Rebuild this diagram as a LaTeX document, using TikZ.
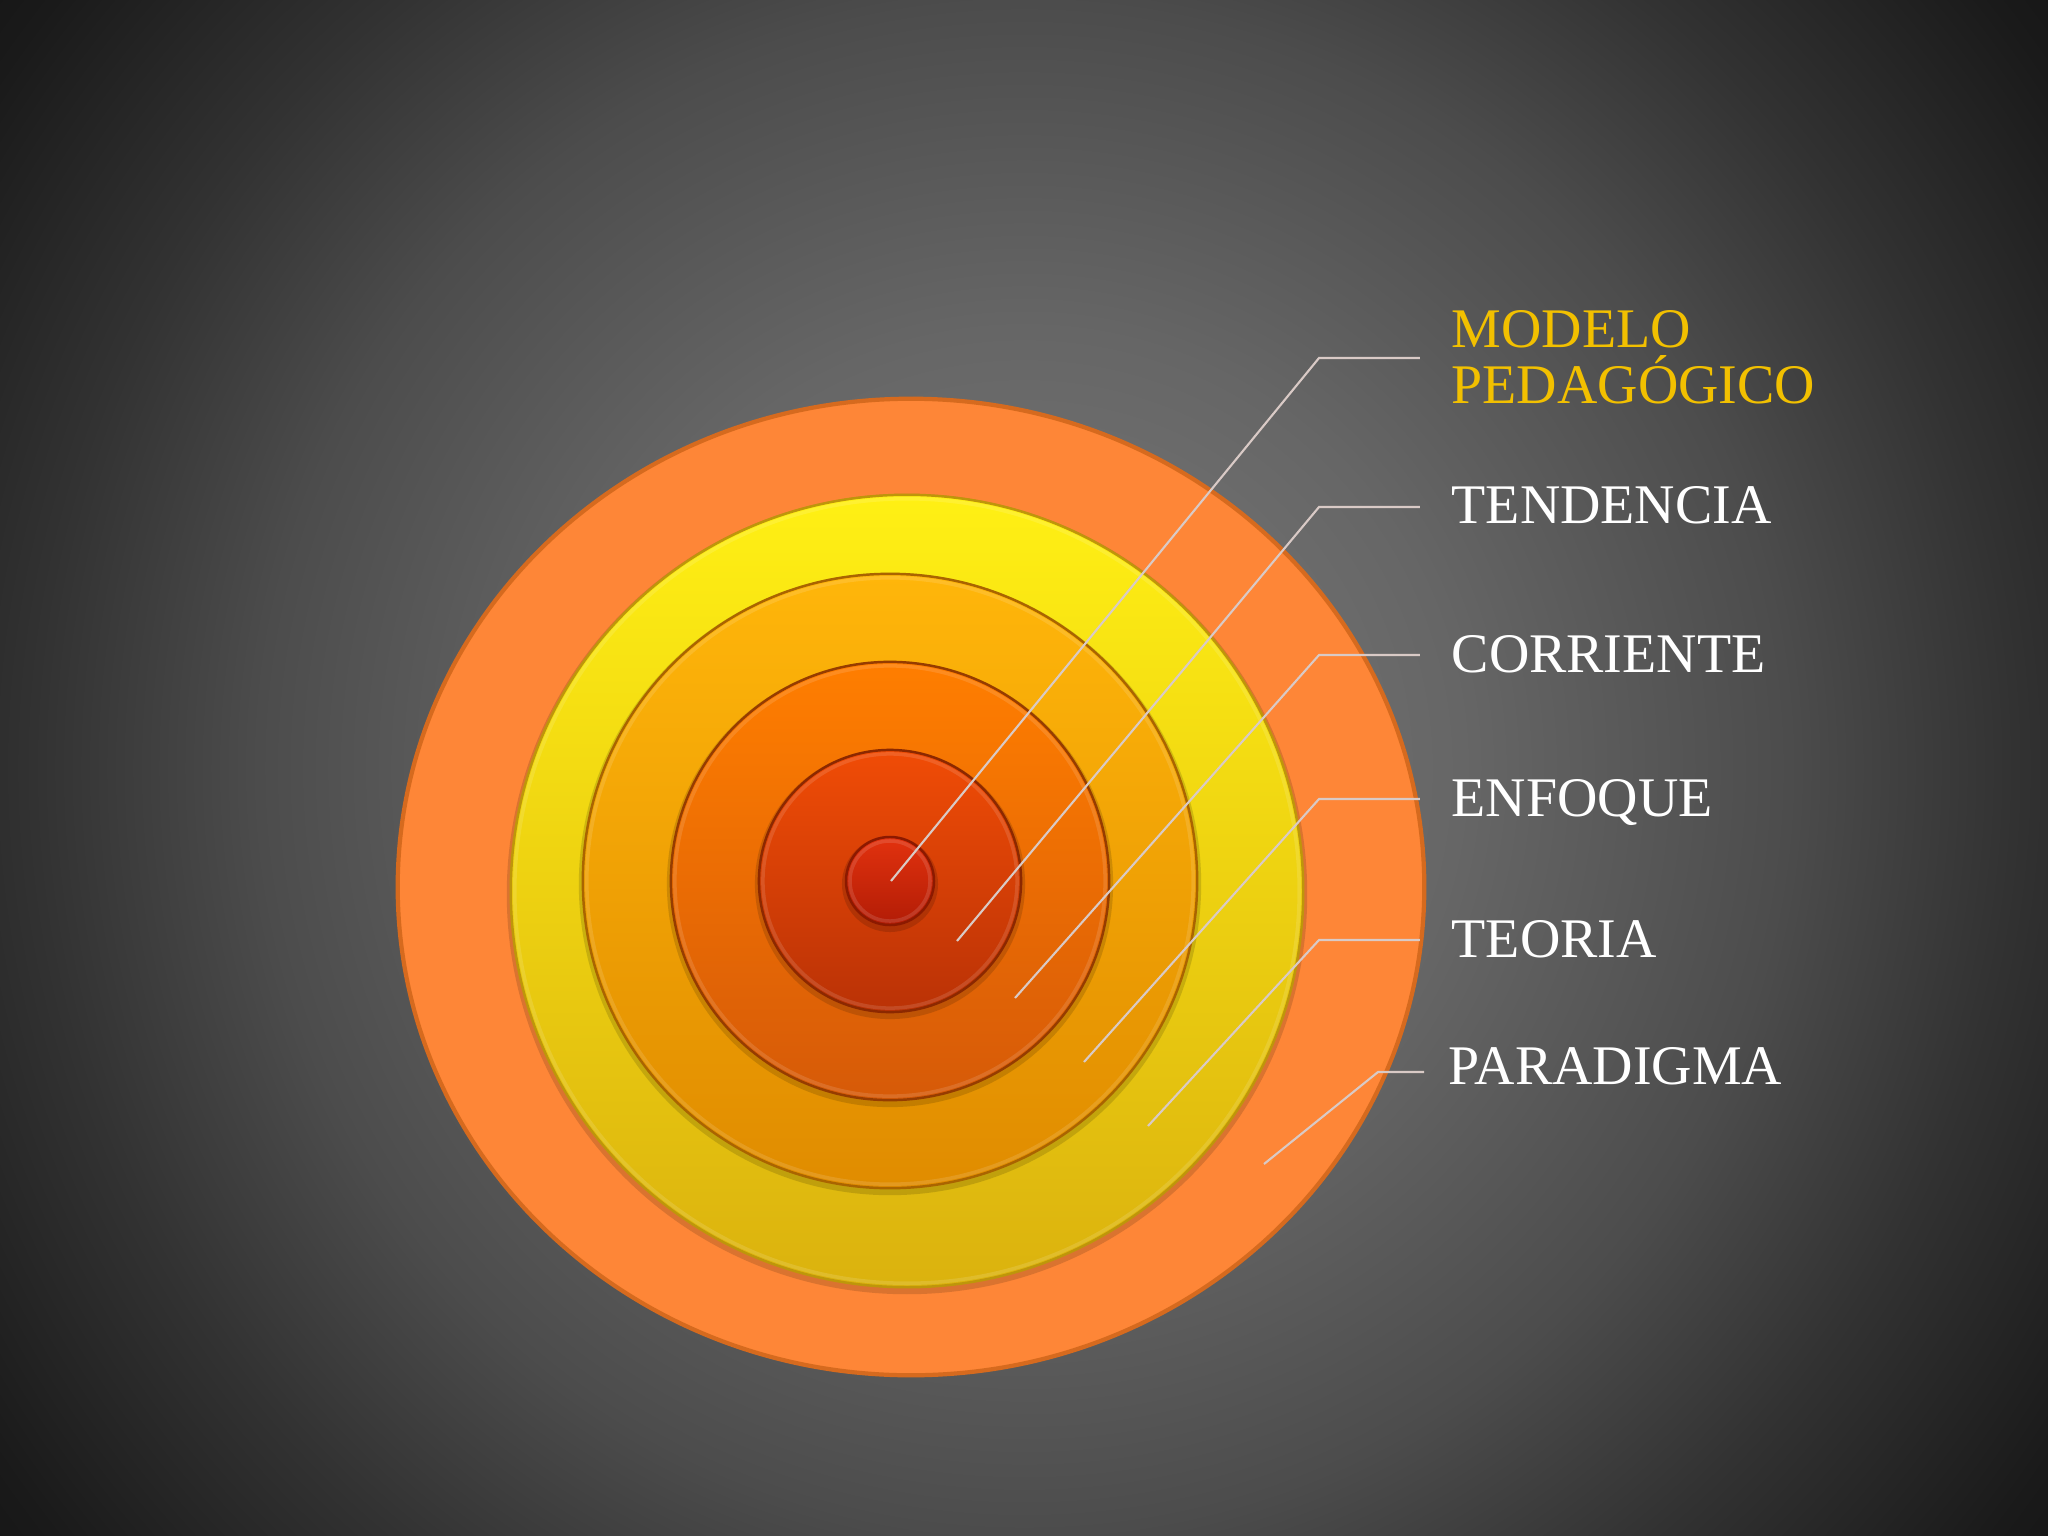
\documentclass[tikz,border=0pt]{standalone}
\usepackage{fontspec}
\setmainfont{Liberation Serif}
\usetikzlibrary{calc}
\definecolor{bgA}{HTML}{7C7C7C}
\definecolor{bgB}{HTML}{666666}
\definecolor{bgC}{HTML}{4C4C4C}
\definecolor{bgD}{HTML}{323232}
\definecolor{bgE}{HTML}{1A1A1A}
\definecolor{bgF}{HTML}{101010}
\definecolor{gold}{HTML}{F2C000}
\definecolor{leadcol}{HTML}{D9CAC6}
\pgfdeclareradialshading{bgrad}{\pgfpoint{0bp}{0bp}}{color(0bp)=(bgA); color(6.84bp)=(bgB); color(11.95bp)=(bgC); color(15.47bp)=(bgD); color(19.3bp)=(bgE); color(21.9bp)=(bgF); color(50bp)=(bgF)}
\newcommand\ringdisc[5]{%
  \fill[black,opacity=0.14] ($(#1)+(0,3)$) circle[radius=#2cm+0.04cm];
  \shadedraw[top color=#3,bottom color=#4,draw=#5,line width=0.7pt] (#1) circle[radius=#2cm];
  \draw[white,opacity=0.12,line width=1pt] (#1) circle[radius=#2cm-0.04cm];
}
\tikzset{
  leader/.style={draw=leadcol,line width=0.6pt},
  lbl/.style={anchor=base west,inner sep=0pt,text=white,font=\fontsize{15.9pt}{15.9pt}\selectfont,align=left}
}
\begin{document}
\begin{tikzpicture}[x=0.01cm,y=-0.01cm]
\useasboundingbox (0,0) rectangle (2048,1536);
\begin{scope}
\clip (0,0) rectangle (2048,1536);
\fill[bgF] (0,0) rectangle (2048,1536);
\shade[shading=bgrad] (1024,768) circle[radius=16cm];
\end{scope}
% outer ellipse
\filldraw[fill={rgb,255:red,254;green,134;blue,55},draw={rgb,255:red,214;green,106;blue,30},line width=1.2pt] (911,887) ellipse[x radius=5.13cm,y radius=4.88cm];
% discs
\coordinate (cy) at (907,891);
\coordinate (ca) at (890,881);
\ringdisc{cy}{3.96}{{rgb,255:red,255;green,240;blue,20}}{{rgb,255:red,219;green,178;blue,14}}{{rgb,255:red,190;green,150;blue,10}}
\ringdisc{ca}{3.07}{{rgb,255:red,255;green,182;blue,10}}{{rgb,255:red,224;green,140;blue,0}}{{rgb,255:red,170;green,100;blue,0}}
\ringdisc{ca}{2.19}{{rgb,255:red,255;green,126;blue,0}}{{rgb,255:red,214;green,90;blue,8}}{{rgb,255:red,150;green,60;blue,0}}
\ringdisc{ca}{1.31}{{rgb,255:red,240;green,76;blue,6}}{{rgb,255:red,186;green,50;blue,6}}{{rgb,255:red,140;green,40;blue,0}}
\ringdisc{ca}{0.44}{{rgb,255:red,226;green,50;blue,14}}{{rgb,255:red,178;green,28;blue,6}}{{rgb,255:red,140;green,25;blue,0}}
% labels
\node[lbl,text=gold] (l1) at (1451,403) {MODELO\\PEDAGÓGICO};
\node[lbl] (l2) at (1451,523) {TENDENCIA};
\node[lbl] (l3) at (1451,672) {CORRIENTE};
\node[lbl] (l4) at (1451,816) {ENFOQUE};
\node[lbl] (l5) at (1451,957) {TEORIA};
\node[lbl] (l6) at (1448,1084) {PARADIGMA};
% leader points
\coordinate (p1) at (891,881);  \coordinate (k1) at (1319,358);
\coordinate (p2) at (957,941);  \coordinate (k2) at (1319,507);
\coordinate (p3) at (1015,998); \coordinate (k3) at (1319,655);
\coordinate (p4) at (1084,1062);\coordinate (k4) at (1319,799);
\coordinate (p5) at (1148,1126);\coordinate (k5) at (1319,940);
\coordinate (p6) at (1264,1164);\coordinate (k6) at (1378,1072);
\draw[leader,shorten >=0.31cm] (p1) -- (k1) -- (k1 -| l1.west);
\draw[leader,shorten >=0.31cm] (p2) -- (k2) -- (k2 -| l2.west);
\draw[leader,shorten >=0.31cm] (p3) -- (k3) -- (k3 -| l3.west);
\draw[leader,shorten >=0.31cm] (p4) -- (k4) -- (k4 -| l4.west);
\draw[leader,shorten >=0.31cm] (p5) -- (k5) -- (k5 -| l5.west);
\draw[leader,shorten >=0.24cm] (p6) -- (k6) -- (k6 -| l6.west);
\end{tikzpicture}
\end{document}
